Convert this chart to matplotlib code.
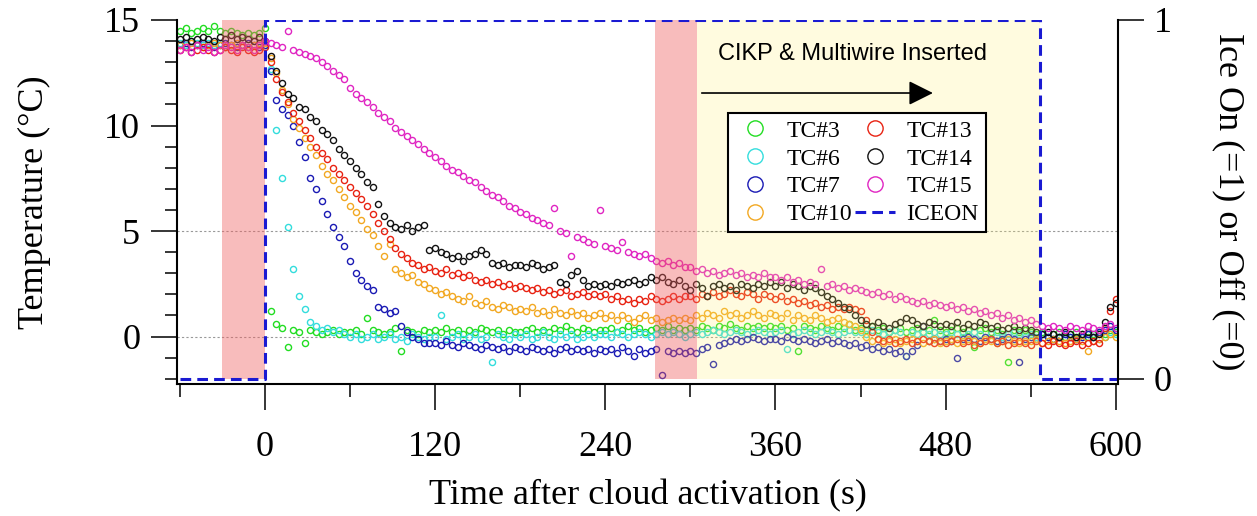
import numpy as np
import matplotlib
matplotlib.use('Agg')
import matplotlib.pyplot as plt
from matplotlib.lines import Line2D
from matplotlib.ticker import MultipleLocator

plt.rcParams['font.family'] = ['Liberation Serif', 'DejaVu Serif']

# time after cloud activation (s), one reading every 4 s
time_s = np.arange(-60, 601, 4)

# thermocouple readings (deg C), one row per minute
tc3 = [14.5, 14.6, 14.4, 14.5, 14.6, 14.5, 14.7, 14.5, 14.4, 14.5, 14.4, 14.3, 14.4, 14.3, 14.4,
       14.6, 1.2, 0.6, 0.4, -0.5, 0.3, 0.2, -0.3, 0.3, 0.2, 0.1, 0.2, 0.3, 0.1, 0.2,
       0.2, 0.3, 0.1, 0.9, 0.3, 0.2, 0.1, 0.2, 0.4, -0.7, 0.3, 0.2, 0.1, 0.3, 0.2,
       0.3, 0.2, 0.4, 0.2, 0.3, 0.1, 0.3, 0.2, 0.4, 0.3, 0.2, 0.3, 0.1, 0.3, 0.2,
       0.2, 0.3, 0.4, 0.2, 0.3, 0.2, 0.4, 0.3, 0.5, 0.3, 0.2, 0.4, 0.3, 0.2, 0.3,
       0.3, 0.4, 0.2, 0.3, 0.5, 0.3, 0.4, 0.2, 0.3, 0.4, 0.3, 0.5, 0.3, 0.4, 0.3,
       0.4, 0.3, 0.5, 0.4, 0.3, 0.5, 0.4, 0.6, 0.4, 0.3, 0.5, 0.4, 0.5, 0.4, 0.5,
       0.4, 0.5, 0.3, 0.4, -0.7, 0.5, 0.4, 0.3, 0.5, 0.4, 0.3, 0.5, 0.4, 0.6, 0.3,
       0.4, 0.3, 0.5, 0.3, 0.4, 0.2, 0.3, 0.4, 0.2, 0.3, 0.4, 0.2, 0.3, 0.8, 0.3,
       0.2, 0.3, 0.4, 0.2, 0.3, -0.5, 0.3, 0.4, 0.2, 0.3, 0.1, -1.2, 0.3, 0.2, 0.3,
       0.2, 0.1, 0.2, 0.0, 0.1, 0.2, 0.0, 0.1, 0.2, 0.1, 0.0, 0.1, 0.2, 0.1, 0.3,
       0.2]
tc6 = [13.9, 13.8, 14.0, 13.9, 13.8, 13.9, 13.8, 13.9, 13.7, 13.8, 13.9, 13.8, 13.7, 13.8, 13.9,
       13.8, 12.7, 9.8, 7.5, 5.2, 3.2, 1.9, 1.3, 0.7, 0.5, 0.3, 0.4, 0.2, 0.3, 0.1,
       0.0, 0.1, -0.1, 0.0, 0.1, -0.1, 0.0, 0.1, -0.1, 0.0, -0.2, 0.1, 0.0, -0.1, 0.0,
       0.0, 1.0, -0.1, 0.0, 0.1, -0.1, 0.0, 0.1, -0.1, 0.0, -1.2, 0.1, 0.0, -0.1, 0.1,
       0.0, 0.1, -0.1, 0.0, 0.2, 0.0, -0.1, 0.1, 0.0, 0.1, -0.1, 0.0, 0.1, 0.0, 0.1,
       0.1, 0.0, 0.2, 0.1, 0.0, 0.1, 0.2, 0.1, 0.0, 0.1, 0.2, 0.1, 0.2, 0.1, 0.0,
       0.1, 0.2, 0.1, 0.2, 0.3, 0.2, 0.1, 0.2, 0.3, 0.2, 0.1, 0.2, 0.3, 0.2, 0.1,
       0.2, 0.3, -0.6, 0.1, 0.2, 0.3, 0.2, 0.1, 0.2, 0.3, 0.2, 0.1, 0.2, 0.3, 0.2,
       0.2, 0.1, 0.3, 0.2, 0.1, 0.2, 0.3, 0.2, -0.9, 0.2, 0.1, 0.2, 0.1, 0.2, 0.1,
       0.1, 0.2, 0.1, 0.0, 0.1, 0.2, 0.1, 0.0, 0.1, 0.2, 0.0, 0.1, 0.2, 0.1, 0.0,
       0.1, 0.0, 0.1, 0.0, -0.1, 0.0, 0.1, 0.0, -0.1, 0.0, 0.1, 0.0, -0.1, 0.0, 0.2,
       0.1]
tc7 = [13.8, 13.9, 13.7, 13.8, 13.9, 13.8, 13.7, 13.8, 13.9, 13.8, 13.7, 13.8, 13.9, 13.8, 13.7,
       13.8, 12.6, 11.2, 10.8, 10.5, 10.0, 9.2, 8.5, 7.5, 7.0, 6.4, 5.8, 5.2, 4.7, 4.3,
       3.6, 3.0, 2.7, 2.4, 2.2, 1.4, 1.3, 1.1, 1.2, 0.5, 0.2, 0.0, -0.1, -0.3, -0.3,
       -0.3, -0.4, -0.2, -0.4, -0.5, -0.3, -0.4, -0.5, -0.6, -0.4, -0.5, -0.6, -0.5, -0.7, -0.5,
       -0.6, -0.7, -0.5, -0.6, -0.7, -0.6, -0.8, -0.6, -0.5, -0.7, -0.6, -0.7, -0.6, -0.8, -0.6,
       -0.7, -0.6, -0.8, -0.5, -0.7, -0.9, -0.6, -0.8, -0.7, -0.6, -1.8, -0.7, -0.8, -0.7, -0.8,
       -0.7, -0.8, -0.6, -0.5, -1.3, -0.4, -0.3, -0.2, -0.1, -0.2, -0.1, 0.0, -0.1, -0.2, -0.1,
       -0.1, -0.2, 0.0, -0.1, -0.2, -0.1, -0.2, -0.3, -0.2, -0.1, -0.3, -0.2, -0.3, -0.4, -0.3,
       -0.5, -0.4, -0.6, -0.5, -0.7, -0.6, -0.8, -0.7, -0.9, -0.7, -0.4, 0.5, -0.2, -0.1, -0.2,
       -0.1, -0.2, -1.0, -0.1, 0.0, -0.1, -0.2, 0.0, -0.1, -0.2, -0.1, 0.0, -0.1, -1.2, -0.1,
       0.0, -0.1, 0.1, 0.0, -0.1, 0.0, 0.1, 0.0, -0.1, 0.0, 0.1, 0.0, 0.2, 0.3, 0.5,
       0.3]
tc10 = [13.8, 13.7, 13.9, 13.8, 13.7, 13.8, 13.9, 13.8, 13.7, 13.8, 13.9, 13.8, 13.7, 13.8, 13.9,
        13.9, 13.2, 12.5, 11.7, 11.0, 10.3, 9.9, 9.4, 9.0, 8.6, 8.1, 7.7, 7.4, 7.0, 6.6,
        6.2, 5.9, 5.5, 5.1, 4.8, 4.3, 3.8, 4.4, 3.2, 3.0, 2.8, 2.9, 2.6, 2.5, 2.3,
        2.2, 2.0, 2.1, 1.9, 1.8, 1.7, 1.9, 1.6, 1.5, 1.7, 1.4, 1.3, 1.5, 1.4, 1.2,
        1.3, 1.2, 1.4, 1.1, 1.2, 1.0, 1.3, 1.1, 1.0, 1.2, 1.0, 1.1, 0.9, 1.0, 1.1,
        0.9, 1.0, 0.8, 1.0, 0.9, 0.7, 0.9, 1.0, 0.8, 0.9, 0.7, 0.8, 0.9, 0.8, 0.9,
        0.8, 1.0, 0.9, 1.1, 1.0, 0.9, 1.2, 1.0, 1.1, 0.9, 1.0, 1.2, 1.0, 0.9, 1.1,
        1.0, 0.9, 1.1, 0.8, 1.0, 0.9, 0.8, 1.0, 0.9, 0.7, 0.8, 0.9, 0.7, 0.6, 0.5,
        0.3, 0.0, -0.2, -0.1, -0.3, -0.2, -0.1, -0.3, -0.2, -0.1, -0.2, -0.3, -0.2, -0.1, -0.3,
        -0.2, -0.1, -0.3, -0.2, -0.1, -0.2, -0.3, -0.1, -0.2, -0.3, -0.2, -0.1, -0.2, -0.3, -0.2,
        -0.2, -0.1, -0.3, -0.2, -0.1, -0.2, -0.3, -0.2, -0.1, -0.2, -0.7, -0.2, -0.1, 0.0, 0.1,
        0.0]
tc13 = [13.6, 13.7, 13.5, 13.6, 13.7, 13.6, 13.5, 13.6, 13.7, 13.6, 13.5, 13.7, 13.6, 13.5, 13.6,
        13.7, 13.0, 12.2, 11.6, 11.1, 10.6, 10.2, 9.8, 9.4, 9.0, 8.7, 8.4, 8.0, 7.7, 7.4,
        7.1, 6.8, 6.5, 6.2, 5.8, 5.4, 5.0, 4.6, 4.2, 3.9, 3.7, 3.5, 3.4, 3.2, 3.3,
        3.1, 3.0, 3.2, 2.9, 3.0, 2.8, 2.9, 2.7, 2.6, 2.7, 2.5, 2.6, 2.4, 2.5, 2.3,
        2.4, 2.3, 2.2, 2.3, 2.1, 2.2, 2.0, 2.1, 2.2, 1.9, 2.0, 2.1, 1.9, 2.0, 1.9,
        2.0, 1.8, 1.9, 1.7, 1.8, 1.6, 1.8, 1.7, 1.9, 1.8, 1.7, 1.8, 1.9, 1.8, 1.9,
        1.9, 1.8, 2.0, 1.9, 2.1, 1.9, 2.0, 2.2, 2.0, 1.9, 2.1, 2.0, 1.8, 2.0, 1.9,
        1.8, 1.9, 1.7, 1.8, 1.6, 1.7, 1.5, 1.6, 1.4, 1.5, 1.3, 1.4, 1.3, 1.4, 1.3,
        1.2, 0.8, 0.2, -0.1, -0.2, -0.1, -0.3, -0.2, -0.1, -0.3, -0.2, -0.1, -0.2, -0.3, -0.2,
        -0.3, -0.2, -0.1, -0.3, -0.2, -0.4, -0.3, -0.2, -0.1, -0.3, -0.2, -0.4, -0.3, -0.2, -0.3,
        -0.4, -0.2, -0.3, -0.4, -0.2, -0.3, -0.4, -0.3, -0.2, -0.4, -0.3, -0.2, -0.3, 0.4, 1.2,
        1.8]
tc14 = [14.1, 14.2, 14.0, 14.1, 14.2, 14.1, 14.0, 14.2, 14.1, 14.3, 14.1, 14.2, 14.1, 14.0, 14.2,
        14.0, 13.3, 12.6, 12.0, 11.5, 11.3, 10.9, 10.8, 10.4, 10.2, 9.8, 9.6, 9.3, 8.9, 8.6,
        8.3, 8.0, 7.7, 7.3, 7.1, 6.3, 5.7, 5.4, 5.2, 5.1, 5.3, 5.0, 5.2, 5.3, 4.1,
        4.2, 4.0, 3.9, 3.7, 3.8, 3.6, 3.8, 3.9, 4.1, 3.9, 3.5, 3.4, 3.5, 3.3, 3.4,
        3.4, 3.3, 3.5, 3.4, 3.2, 3.3, 3.4, 2.6, 2.5, 2.9, 3.1, 2.7, 2.4, 2.5, 2.4,
        2.5, 2.4, 2.6, 2.5, 2.6, 2.7, 2.5, 2.6, 2.8, 2.7, 2.8, 2.6, 2.5, 2.7, 2.4,
        2.2, 2.5, 2.3, 1.9, 2.4, 2.5, 2.3, 2.4, 2.2, 2.5, 2.4, 2.3, 2.5, 2.4, 2.6,
        2.4, 2.6, 2.3, 2.5, 2.4, 2.2, 2.4, 2.3, 2.1, 1.9, 1.8, 1.6, 1.4, 1.3, 1.0,
        0.8, 0.6, 0.5, 0.7, 0.5, 0.4, 0.6, 0.7, 0.9, 0.8, 0.6, 0.5, 0.7, 0.6, 0.5,
        0.6, 0.5, 0.7, 0.4, 0.6, 0.5, 0.7, 0.6, 0.4, 0.5, 0.3, 0.4, 0.5, 0.3, 0.4,
        0.3, 0.2, 0.1, 0.2, 0.1, 0.0, 0.2, 0.1, 0.0, 0.1, 0.2, 0.0, 0.1, 0.7, 1.4,
        1.6]
tc15 = [13.6, 13.7, 13.5, 13.8, 13.6, 13.7, 13.5, 13.6, 13.8, 13.7, 13.6, 13.8, 13.7, 13.6, 13.8,
        14.0, 13.9, 13.8, 13.7, 14.5, 13.6, 13.5, 13.4, 13.3, 13.2, 13.0, 12.8, 12.6, 12.4, 12.2,
        11.8, 11.5, 11.3, 11.1, 10.9, 10.6, 10.4, 10.2, 9.9, 9.7, 9.5, 9.3, 9.1, 8.9, 8.7,
        8.5, 8.3, 8.1, 7.9, 7.8, 7.6, 7.4, 7.3, 7.1, 6.9, 6.7, 6.6, 6.4, 6.2, 6.1,
        5.9, 5.8, 5.6, 5.5, 5.4, 5.3, 6.1, 5.0, 4.9, 3.8, 4.7, 4.6, 4.5, 4.4, 6.0,
        4.3, 4.2, 4.1, 4.5, 4.0, 3.9, 3.8, 3.9, 3.7, 3.6, 3.5, 3.6, 3.4, 3.5, 3.3,
        3.3, 3.1, 3.2, 3.0, 3.1, 2.9, 3.0, 3.1, 2.9, 3.0, 2.8, 2.9, 2.8, 3.0, 2.8,
        2.8, 2.7, 2.8, 2.6, 2.7, 2.5, 2.6, 2.5, 3.2, 2.4, 2.5, 2.3, 2.4, 2.2, 2.3,
        2.2, 2.1, 2.0, 2.1, 1.9, 2.0, 1.8, 1.9, 1.8, 1.7, 1.6, 1.7, 1.5, 1.6, 1.5,
        1.4, 1.5, 1.3, 1.4, 1.2, 1.3, 1.1, 1.2, 1.0, 1.1, 0.9, 1.0, 0.8, 0.9, 0.7,
        0.8, 0.6, 0.5, 0.4, 0.5, 0.4, 0.3, 0.5, 0.4, 0.3, 0.5, 0.4, 0.3, 0.5, 0.6,
        0.4]

labels = ["TC#3", "TC#6", "TC#7", "TC#10", "TC#13", "TC#14", "TC#15"]
temps = [tc3, tc6, tc7, tc10, tc13, tc14, tc15]
colors = ["#22dd22", "#33dddd", "#1a1ab4", "#f2a822", "#e82212", "#111111", "#e025c2"]

# ice on/off state (right axis)
ice_time = [-60, 0, 546.5, 601.5]
ice_on = [0, 1, 0, 0]

# shaded periods (s)
pink_spans = [(-30, 0), (275, 305)]
yellow_span = (305, 546.5)

fig = plt.figure(figsize=(12.57, 5.16), dpi=100)
ax = fig.add_axes([177/1257, 1 - 384/516, 941/1257, 364/516])

for lab, vals, c in zip(labels, temps, colors):
    ax.plot(time_s, vals, 'o', ms=4.4, mfc='none', mec=c, mew=1.0, zorder=2)

for y in [0, 5]:
    ax.axhline(y, color='#999999', ls=(0, (2, 2)), lw=0.8, zorder=1)

for a, b in pink_spans:
    ax.fill_between([a, b], -2, 15, color='#f06060', alpha=0.42, lw=0, zorder=3)
ax.fill_between(list(yellow_span), -2, 15, color='#fff070', alpha=0.22, lw=0, zorder=3)

ax.set_xlim(-62, 601.5)
ax.set_ylim(-2.25, 15)
ax.xaxis.set_major_locator(MultipleLocator(120))
ax.xaxis.set_minor_locator(MultipleLocator(60))
ax.yaxis.set_major_locator(MultipleLocator(5))
ax.yaxis.set_minor_locator(MultipleLocator(1))
ax.tick_params(which='major', direction='out', length=18.5, width=1.1, labelsize=26)
ax.tick_params(which='minor', direction='out', length=9, width=1.1)
ax.tick_params(axis='x', pad=15)
ax.tick_params(axis='y', pad=8)
for s in ['top', 'right']:
    ax.spines[s].set_visible(False)
for s in ['left', 'bottom']:
    ax.spines[s].set_linewidth(1.5)

ax.set_xlabel('Time after cloud activation (s)', fontsize=26)
ax.xaxis.set_label_coords(0.5, -0.261)
ax.set_ylabel('Temperature (°C)', fontsize=26)
ax.yaxis.set_label_coords(-0.134, 0.5)

ax.text(319.5, 13.1, 'CIKP & Multiwire Inserted', family='Liberation Sans',
        fontsize=17, zorder=6)
ax.annotate('', xy=(471, 11.54), xytext=(308, 11.54), zorder=6,
            arrowprops=dict(arrowstyle='-|>,head_length=0.6,head_width=0.3',
                            mutation_scale=25, lw=1.2, color='black',
                            shrinkA=0, shrinkB=0))

ice_color = '#1a1ad2'
ice_dash = (0, (3.5, 2))
ax2 = ax.twinx()
ax2.plot(ice_time, ice_on, drawstyle='steps-post', color=ice_color, lw=2.2, ls=ice_dash)
ax2.set_ylim(-0.0153, 1)
ax2.set_yticks([0, 1])
ax2.set_yticklabels(['0', '1'])
ax2.tick_params(axis='y', direction='out', length=18.5, width=1.1, labelsize=26, pad=7)
for s in ['top', 'left', 'bottom']:
    ax2.spines[s].set_visible(False)
ax2.spines['right'].set_linewidth(1.5)
ax2.set_ylabel('Ice On (=1) or Off (=0)', fontsize=26, rotation=270, va='bottom')
ax2.yaxis.set_label_coords(1.0999, 0.5)

handles = [Line2D([], [], marker='o', ls='none', mfc='none', mec=c, ms=11, mew=1.0)
           for c in colors]
handles.append(Line2D([], [], color=ice_color, lw=2.2, ls=ice_dash))
leg = ax2.legend(handles, labels + ['ICEON'], loc='upper left', bbox_to_anchor=(0.5855, 0.7445),
                 borderaxespad=0, ncol=2, fontsize=17, frameon=True, fancybox=False,
                 edgecolor='black', framealpha=1, handlelength=1.7, handletextpad=0.47,
                 columnspacing=0.13, labelspacing=0.27, borderpad=0.3)
leg.get_frame().set_linewidth(1.5)

fig.savefig('out.png', dpi=100)
